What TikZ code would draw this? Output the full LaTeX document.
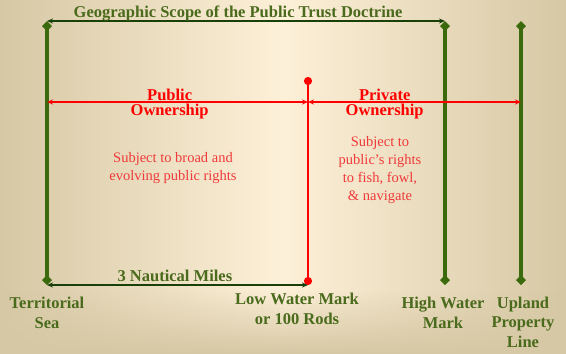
\documentclass[tikz,border=0pt]{standalone}
\usepackage{fontspec}
\setmainfont{Liberation Serif}
\usetikzlibrary{arrows.meta,fadings}
\definecolor{bgedge}{HTML}{D6C8A4}
\definecolor{bgmid}{HTML}{FDF0D8}
\definecolor{linegreen}{HTML}{3A6A0C}
\definecolor{textgreen}{HTML}{4A6A1C}
\definecolor{arrowgreen}{HTML}{1A400A}
\definecolor{softred}{HTML}{F03A3A}
\tikzset{
  boundary/.style={draw=linegreen,line width=3.6pt,{Diamond[length=10pt,width=10pt]}-{Diamond[length=10pt,width=10pt]}},
  greenspan/.style={draw=arrowgreen,line width=1.6pt,{Stealth[length=6pt,width=5pt]}-{Stealth[length=6pt,width=5pt]}},
  redspan/.style={draw=red,line width=1.6pt,{Stealth[length=6pt,width=5pt]}-{Stealth[length=6pt,width=5pt]}},
  greenlabel/.style={text=textgreen,font=\bfseries\fontsize{16.5}{19.5}\selectfont,align=center,inner sep=0pt},
  redlabel/.style={text=red,font=\bfseries\fontsize{16.5}{15}\selectfont,align=center,inner sep=0pt},
  note/.style={text=softred,font=\fontsize{14.5}{18}\selectfont,align=center,inner sep=0pt}
}
\begin{document}
\begin{tikzpicture}[x=1pt,y=-1pt]
\useasboundingbox (0,0) rectangle (566,354);
\shade[left color=bgedge,right color=bgedge,middle color=bgmid] (0,0) rectangle (566,354);
\fill[bgedge,path fading=north] (0,290) rectangle (566,354);
% line ends
\coordinate (seaTop) at (47,21);   \coordinate (seaBot) at (47,285);
\coordinate (hwTop) at (445,21);   \coordinate (hwBot) at (445,285);
\coordinate (upTop) at (521,21);   \coordinate (upBot) at (521,285);
\coordinate (lwTop) at (308,77);   \coordinate (lwBot) at (308,285);
\coordinate (seaMid) at (47,102);  \coordinate (lwMid) at (308,102);
\coordinate (upMid) at (521,102);
\draw[boundary] (seaTop) -- (seaBot);
\draw[boundary] (hwTop) -- (hwBot);
\draw[boundary] (upTop) -- (upBot);
\draw[draw=red,line width=2.4pt,{Circle[length=8pt]}-{Circle[length=8pt]}] (lwTop) -- (lwBot);
\draw[greenspan] (seaTop) -- (hwTop) node[greenlabel,pos=0.48,above=-0.5pt]{Geographic Scope of the Public Trust Doctrine};
\draw[greenspan] (seaBot) -- (lwBot) node[greenlabel,pos=0.49,above=3pt]{3 Nautical Miles};
\draw[redspan] (seaMid) -- (lwMid) node[redlabel,pos=0.47,yshift=-2.5pt]{Public\\Ownership};
\draw[redspan] (lwMid) -- (upMid) node[redlabel,pos=0.36,yshift=-2.5pt]{Private\\Ownership};
\node[note] (broad) at (173,168.5) {Subject to broad and\\evolving public rights};
\node[note] (fish) at (380,170) {Subject to\\public’s rights\\to fish, fowl,\\\& navigate};
% bottom labels (base = last line)
\node[greenlabel,anchor=base] (sea) at (47,328) {Territorial\\Sea};
\node[greenlabel,anchor=base] (low) at (297,324) {Low Water Mark\\or 100 Rods};
\node[greenlabel,anchor=base] (high) at (443,328) {High Water\\Mark};
\node[greenlabel,anchor=base] (upland) at (523,347) {Upland\\Property\\Line};
\end{tikzpicture}
\end{document}
